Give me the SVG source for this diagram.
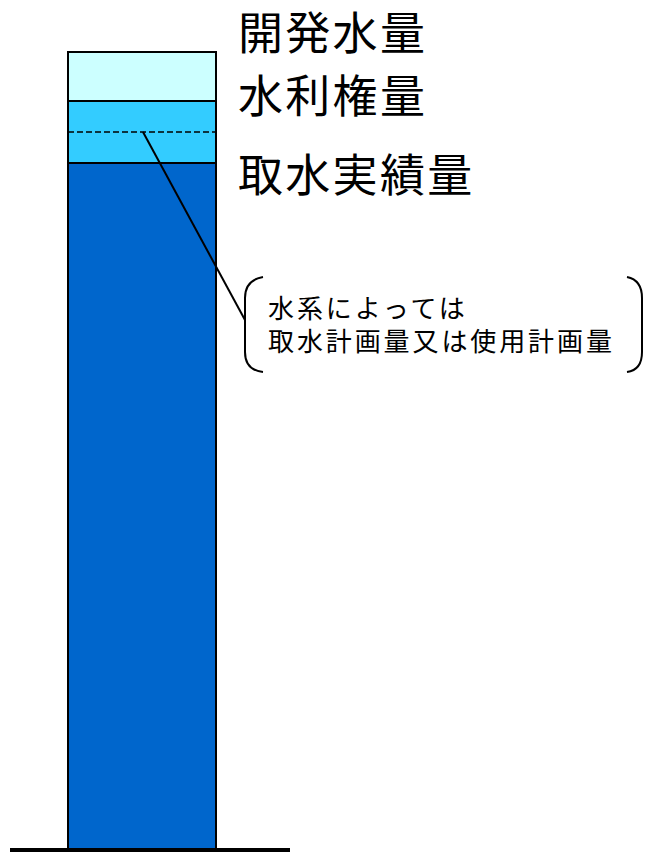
<svg xmlns="http://www.w3.org/2000/svg" width="646" height="853" viewBox="0 0 646 853">
<style>
.big{font-family:"Noto Sans CJK JP","Noto Sans CJK SC",sans-serif;font-size:45px;letter-spacing:2.3px;fill:#000}
.small{font-family:"Noto Sans CJK JP","Noto Sans CJK SC",sans-serif;font-size:26px;letter-spacing:2.9px;fill:#000}
.ln{stroke:#000;stroke-width:2;fill:none}
</style>
<rect width="646" height="853" fill="#fff"/>
<g id="column">
<rect x="68" y="163" width="148" height="686" class="ln" style="fill:#0066CC"/>
<rect x="68" y="101" width="148" height="62" class="ln" style="fill:#33CCFF"/>
<rect x="68" y="52" width="148" height="49" class="ln" style="fill:#CCFFFF"/>
<line x1="68" y1="132" x2="216" y2="132" stroke="#000" stroke-width="1.5" stroke-dasharray="6,3"/>
</g>
<g id="ground">
<line x1="10" y1="850" x2="290" y2="850" stroke="#000" stroke-width="4"/>
</g>
<g id="labels">
<text class="big" x="238" y="50">開発水量</text>
<text class="big" x="238" y="113">水利権量</text>
<text class="big" x="238" y="192">取水実績量</text>
</g>
<g id="connectors">
<line x1="143" y1="132" x2="245" y2="320" class="ln"/>
</g>
<g id="callout">
<path d="M263,277 Q245,280 245,298 L245,352 Q245,370 263,372" class="ln"/>
<path d="M627,277 Q642,280 642,298 L642,352 Q642,370 627,372" class="ln"/>
<text class="small" x="268" y="318">水系によっては</text>
<text class="small" x="268" y="351">取水計画量又は使用計画量</text>
</g>
</svg>
